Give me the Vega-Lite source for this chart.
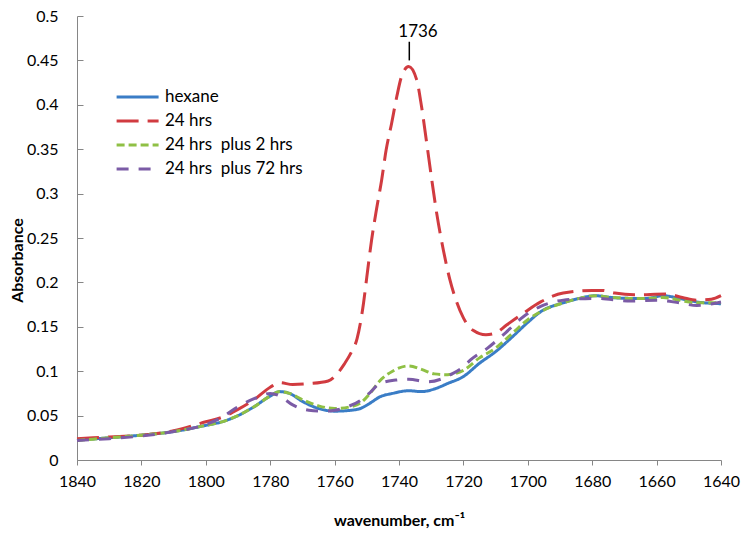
{
  "$schema": "https://vega.github.io/schema/vega-lite/v6.json",
  "width": 644,
  "height": 444,
  "autosize": {"type": "none"},
  "padding": {"left": 77, "top": 16, "right": 21, "bottom": 75},
  "background": "white",
  "config": {
    "view": {"stroke": null},
    "font": "Lato",
    "axis": {"grid": false, "domainColor": "#868686", "tickColor": "#868686", "labelFont": "Lato", "labelFontSize": 16, "labelColor": "#000", "titleFont": "Lato", "titleFontSize": 16, "titleFontWeight": "bold", "titleColor": "#000"}
  },
  "datasets": {
    "curves": [
      {"w": 1840, "A": 0.0225, "s": "hexane"},
      {"w": 1830, "A": 0.025, "s": "hexane"},
      {"w": 1820, "A": 0.028, "s": "hexane"},
      {"w": 1810, "A": 0.032, "s": "hexane"},
      {"w": 1800, "A": 0.039, "s": "hexane"},
      {"w": 1795, "A": 0.043, "s": "hexane"},
      {"w": 1790, "A": 0.05, "s": "hexane"},
      {"w": 1785, "A": 0.06, "s": "hexane"},
      {"w": 1780, "A": 0.072, "s": "hexane"},
      {"w": 1777, "A": 0.077, "s": "hexane"},
      {"w": 1774, "A": 0.075, "s": "hexane"},
      {"w": 1770, "A": 0.066, "s": "hexane"},
      {"w": 1765, "A": 0.058, "s": "hexane"},
      {"w": 1760, "A": 0.055, "s": "hexane"},
      {"w": 1755, "A": 0.056, "s": "hexane"},
      {"w": 1752, "A": 0.058, "s": "hexane"},
      {"w": 1749, "A": 0.064, "s": "hexane"},
      {"w": 1746, "A": 0.071, "s": "hexane"},
      {"w": 1742, "A": 0.075, "s": "hexane"},
      {"w": 1737, "A": 0.078, "s": "hexane"},
      {"w": 1733, "A": 0.077, "s": "hexane"},
      {"w": 1729, "A": 0.08, "s": "hexane"},
      {"w": 1725, "A": 0.086, "s": "hexane"},
      {"w": 1720, "A": 0.094, "s": "hexane"},
      {"w": 1715, "A": 0.109, "s": "hexane"},
      {"w": 1710, "A": 0.122, "s": "hexane"},
      {"w": 1705, "A": 0.138, "s": "hexane"},
      {"w": 1700, "A": 0.155, "s": "hexane"},
      {"w": 1696, "A": 0.167, "s": "hexane"},
      {"w": 1689, "A": 0.177, "s": "hexane"},
      {"w": 1684, "A": 0.182, "s": "hexane"},
      {"w": 1679, "A": 0.185, "s": "hexane"},
      {"w": 1674, "A": 0.183, "s": "hexane"},
      {"w": 1668, "A": 0.182, "s": "hexane"},
      {"w": 1663, "A": 0.182, "s": "hexane"},
      {"w": 1658, "A": 0.185, "s": "hexane"},
      {"w": 1653, "A": 0.182, "s": "hexane"},
      {"w": 1647.5, "A": 0.178, "s": "hexane"},
      {"w": 1640, "A": 0.176, "s": "hexane"},

      {"w": 1840, "A": 0.024, "s": "24 hrs"},
      {"w": 1830, "A": 0.026, "s": "24 hrs"},
      {"w": 1820, "A": 0.028, "s": "24 hrs"},
      {"w": 1810, "A": 0.033, "s": "24 hrs"},
      {"w": 1800, "A": 0.043, "s": "24 hrs"},
      {"w": 1795, "A": 0.048, "s": "24 hrs"},
      {"w": 1790, "A": 0.057, "s": "24 hrs"},
      {"w": 1785, "A": 0.068, "s": "24 hrs"},
      {"w": 1780, "A": 0.082, "s": "24 hrs"},
      {"w": 1777, "A": 0.087, "s": "24 hrs"},
      {"w": 1773, "A": 0.085, "s": "24 hrs"},
      {"w": 1768, "A": 0.086, "s": "24 hrs"},
      {"w": 1762, "A": 0.089, "s": "24 hrs"},
      {"w": 1759, "A": 0.098, "s": "24 hrs"},
      {"w": 1757, "A": 0.108, "s": "24 hrs"},
      {"w": 1755, "A": 0.12, "s": "24 hrs"},
      {"w": 1753, "A": 0.137, "s": "24 hrs"},
      {"w": 1751, "A": 0.177, "s": "24 hrs"},
      {"w": 1750, "A": 0.206, "s": "24 hrs"},
      {"w": 1748.5, "A": 0.248, "s": "24 hrs"},
      {"w": 1747, "A": 0.282, "s": "24 hrs"},
      {"w": 1745.4, "A": 0.315, "s": "24 hrs"},
      {"w": 1744, "A": 0.349, "s": "24 hrs"},
      {"w": 1742.3, "A": 0.379, "s": "24 hrs"},
      {"w": 1740.7, "A": 0.409, "s": "24 hrs"},
      {"w": 1739.2, "A": 0.432, "s": "24 hrs"},
      {"w": 1737, "A": 0.443, "s": "24 hrs"},
      {"w": 1734.5, "A": 0.428, "s": "24 hrs"},
      {"w": 1733, "A": 0.398, "s": "24 hrs"},
      {"w": 1731.4, "A": 0.357, "s": "24 hrs"},
      {"w": 1729.8, "A": 0.315, "s": "24 hrs"},
      {"w": 1728.3, "A": 0.278, "s": "24 hrs"},
      {"w": 1726.2, "A": 0.236, "s": "24 hrs"},
      {"w": 1724.2, "A": 0.203, "s": "24 hrs"},
      {"w": 1722.3, "A": 0.18, "s": "24 hrs"},
      {"w": 1720, "A": 0.16, "s": "24 hrs"},
      {"w": 1717, "A": 0.146, "s": "24 hrs"},
      {"w": 1713, "A": 0.141, "s": "24 hrs"},
      {"w": 1710, "A": 0.143, "s": "24 hrs"},
      {"w": 1706.6, "A": 0.152, "s": "24 hrs"},
      {"w": 1701.5, "A": 0.165, "s": "24 hrs"},
      {"w": 1696, "A": 0.178, "s": "24 hrs"},
      {"w": 1689, "A": 0.188, "s": "24 hrs"},
      {"w": 1680, "A": 0.191, "s": "24 hrs"},
      {"w": 1677, "A": 0.191, "s": "24 hrs"},
      {"w": 1673, "A": 0.188, "s": "24 hrs"},
      {"w": 1667, "A": 0.186, "s": "24 hrs"},
      {"w": 1657, "A": 0.187, "s": "24 hrs"},
      {"w": 1652, "A": 0.183, "s": "24 hrs"},
      {"w": 1647.5, "A": 0.18, "s": "24 hrs"},
      {"w": 1643, "A": 0.181, "s": "24 hrs"},
      {"w": 1640, "A": 0.185, "s": "24 hrs"},

      {"w": 1840, "A": 0.022, "s": "24 hrs\u00a0 plus 2 hrs"},
      {"w": 1830, "A": 0.025, "s": "24 hrs\u00a0 plus 2 hrs"},
      {"w": 1820, "A": 0.028, "s": "24 hrs\u00a0 plus 2 hrs"},
      {"w": 1810, "A": 0.032, "s": "24 hrs\u00a0 plus 2 hrs"},
      {"w": 1800, "A": 0.039, "s": "24 hrs\u00a0 plus 2 hrs"},
      {"w": 1795, "A": 0.043, "s": "24 hrs\u00a0 plus 2 hrs"},
      {"w": 1790, "A": 0.05, "s": "24 hrs\u00a0 plus 2 hrs"},
      {"w": 1785, "A": 0.06, "s": "24 hrs\u00a0 plus 2 hrs"},
      {"w": 1780, "A": 0.072, "s": "24 hrs\u00a0 plus 2 hrs"},
      {"w": 1777, "A": 0.077, "s": "24 hrs\u00a0 plus 2 hrs"},
      {"w": 1774, "A": 0.075, "s": "24 hrs\u00a0 plus 2 hrs"},
      {"w": 1770, "A": 0.068, "s": "24 hrs\u00a0 plus 2 hrs"},
      {"w": 1765, "A": 0.061, "s": "24 hrs\u00a0 plus 2 hrs"},
      {"w": 1760, "A": 0.058, "s": "24 hrs\u00a0 plus 2 hrs"},
      {"w": 1755, "A": 0.06, "s": "24 hrs\u00a0 plus 2 hrs"},
      {"w": 1752, "A": 0.064, "s": "24 hrs\u00a0 plus 2 hrs"},
      {"w": 1749, "A": 0.075, "s": "24 hrs\u00a0 plus 2 hrs"},
      {"w": 1746, "A": 0.089, "s": "24 hrs\u00a0 plus 2 hrs"},
      {"w": 1742, "A": 0.1, "s": "24 hrs\u00a0 plus 2 hrs"},
      {"w": 1737, "A": 0.106, "s": "24 hrs\u00a0 plus 2 hrs"},
      {"w": 1733, "A": 0.102, "s": "24 hrs\u00a0 plus 2 hrs"},
      {"w": 1729, "A": 0.097, "s": "24 hrs\u00a0 plus 2 hrs"},
      {"w": 1725, "A": 0.096, "s": "24 hrs\u00a0 plus 2 hrs"},
      {"w": 1720, "A": 0.101, "s": "24 hrs\u00a0 plus 2 hrs"},
      {"w": 1715, "A": 0.115, "s": "24 hrs\u00a0 plus 2 hrs"},
      {"w": 1710, "A": 0.126, "s": "24 hrs\u00a0 plus 2 hrs"},
      {"w": 1705, "A": 0.142, "s": "24 hrs\u00a0 plus 2 hrs"},
      {"w": 1700, "A": 0.158, "s": "24 hrs\u00a0 plus 2 hrs"},
      {"w": 1696, "A": 0.167, "s": "24 hrs\u00a0 plus 2 hrs"},
      {"w": 1689, "A": 0.177, "s": "24 hrs\u00a0 plus 2 hrs"},
      {"w": 1684, "A": 0.182, "s": "24 hrs\u00a0 plus 2 hrs"},
      {"w": 1679, "A": 0.185, "s": "24 hrs\u00a0 plus 2 hrs"},
      {"w": 1674, "A": 0.183, "s": "24 hrs\u00a0 plus 2 hrs"},
      {"w": 1668, "A": 0.182, "s": "24 hrs\u00a0 plus 2 hrs"},
      {"w": 1663, "A": 0.182, "s": "24 hrs\u00a0 plus 2 hrs"},
      {"w": 1658, "A": 0.183, "s": "24 hrs\u00a0 plus 2 hrs"},
      {"w": 1653, "A": 0.18, "s": "24 hrs\u00a0 plus 2 hrs"},
      {"w": 1647.5, "A": 0.177, "s": "24 hrs\u00a0 plus 2 hrs"},
      {"w": 1640, "A": 0.177, "s": "24 hrs\u00a0 plus 2 hrs"},

      {"w": 1840, "A": 0.022, "s": "24 hrs\u00a0 plus 72 hrs"},
      {"w": 1830, "A": 0.024, "s": "24 hrs\u00a0 plus 72 hrs"},
      {"w": 1820, "A": 0.027, "s": "24 hrs\u00a0 plus 72 hrs"},
      {"w": 1810, "A": 0.032, "s": "24 hrs\u00a0 plus 72 hrs"},
      {"w": 1800, "A": 0.04, "s": "24 hrs\u00a0 plus 72 hrs"},
      {"w": 1795, "A": 0.048, "s": "24 hrs\u00a0 plus 72 hrs"},
      {"w": 1790, "A": 0.06, "s": "24 hrs\u00a0 plus 72 hrs"},
      {"w": 1785, "A": 0.069, "s": "24 hrs\u00a0 plus 72 hrs"},
      {"w": 1780, "A": 0.075, "s": "24 hrs\u00a0 plus 72 hrs"},
      {"w": 1777, "A": 0.072, "s": "24 hrs\u00a0 plus 72 hrs"},
      {"w": 1773, "A": 0.062, "s": "24 hrs\u00a0 plus 72 hrs"},
      {"w": 1768, "A": 0.056, "s": "24 hrs\u00a0 plus 72 hrs"},
      {"w": 1764, "A": 0.055, "s": "24 hrs\u00a0 plus 72 hrs"},
      {"w": 1760, "A": 0.056, "s": "24 hrs\u00a0 plus 72 hrs"},
      {"w": 1756, "A": 0.06, "s": "24 hrs\u00a0 plus 72 hrs"},
      {"w": 1752, "A": 0.067, "s": "24 hrs\u00a0 plus 72 hrs"},
      {"w": 1749, "A": 0.076, "s": "24 hrs\u00a0 plus 72 hrs"},
      {"w": 1746, "A": 0.086, "s": "24 hrs\u00a0 plus 72 hrs"},
      {"w": 1741, "A": 0.09, "s": "24 hrs\u00a0 plus 72 hrs"},
      {"w": 1737, "A": 0.091, "s": "24 hrs\u00a0 plus 72 hrs"},
      {"w": 1731, "A": 0.088, "s": "24 hrs\u00a0 plus 72 hrs"},
      {"w": 1727, "A": 0.091, "s": "24 hrs\u00a0 plus 72 hrs"},
      {"w": 1724, "A": 0.096, "s": "24 hrs\u00a0 plus 72 hrs"},
      {"w": 1720, "A": 0.105, "s": "24 hrs\u00a0 plus 72 hrs"},
      {"w": 1717.7, "A": 0.113, "s": "24 hrs\u00a0 plus 72 hrs"},
      {"w": 1712.5, "A": 0.126, "s": "24 hrs\u00a0 plus 72 hrs"},
      {"w": 1707, "A": 0.143, "s": "24 hrs\u00a0 plus 72 hrs"},
      {"w": 1701.5, "A": 0.161, "s": "24 hrs\u00a0 plus 72 hrs"},
      {"w": 1696, "A": 0.173, "s": "24 hrs\u00a0 plus 72 hrs"},
      {"w": 1689, "A": 0.18, "s": "24 hrs\u00a0 plus 72 hrs"},
      {"w": 1679, "A": 0.182, "s": "24 hrs\u00a0 plus 72 hrs"},
      {"w": 1668, "A": 0.179, "s": "24 hrs\u00a0 plus 72 hrs"},
      {"w": 1660, "A": 0.18, "s": "24 hrs\u00a0 plus 72 hrs"},
      {"w": 1653, "A": 0.177, "s": "24 hrs\u00a0 plus 72 hrs"},
      {"w": 1647.5, "A": 0.174, "s": "24 hrs\u00a0 plus 72 hrs"},
      {"w": 1640, "A": 0.178, "s": "24 hrs\u00a0 plus 72 hrs"}
    ],
    "annot": [
      {"w": 1734.1, "A": 0.476, "w0": 1736.8, "A0": 0.471, "A1": 0.45, "label": "1736"}
    ]
  },
  "layer": [
    {
      "data": {"name": "curves"},
      "mark": {"type": "line", "strokeWidth": 3, "interpolate": "monotone"},
      "encoding": {
        "x": {"field": "w", "type": "quantitative", "scale": {"domain": [1640, 1840], "reverse": true, "nice": false}, "axis": {"values": [1840, 1820, 1800, 1780, 1760, 1740, 1720, 1700, 1680, 1660, 1640], "format": "d", "tickSize": 5, "labelPadding": 8, "labelFlush": false, "title": "wavenumber, cm⁻¹", "titleY": 65, "titleBaseline": "alphabetic"}},
        "y": {"field": "A", "type": "quantitative", "scale": {"domain": [0, 0.5], "nice": false}, "axis": {"values": [0, 0.05, 0.1, 0.15, 0.2, 0.25, 0.3, 0.35, 0.4, 0.45, 0.5], "format": ".2~f", "tickSize": -6, "labelPadding": 25, "labelFlush": false, "title": "Absorbance", "titleX": -55, "titleY": 244, "titleBaseline": "alphabetic", "titleAngle": -90}},
        "color": {"field": "s", "type": "nominal", "scale": {"domain": ["hexane", "24 hrs", "24 hrs\u00a0 plus 2 hrs", "24 hrs\u00a0 plus 72 hrs"], "range": ["#3A7DC6", "#D13B40", "#8FC045", "#7B5BA6"]}, "legend": {"title": null, "orient": "none", "legendX": 38, "legendY": 71, "padding": 0, "symbolType": "M-1,0H4", "symbolSize": 282, "symbolStrokeWidth": 3, "symbolFillColor": "transparent", "labelFontSize": 17, "labelFont": "Lato", "labelColor": "#000", "rowPadding": 6, "labelOffset": 30}},
        "strokeDash": {"field": "s", "type": "nominal", "scale": {"domain": ["hexane", "24 hrs", "24 hrs\u00a0 plus 2 hrs", "24 hrs\u00a0 plus 72 hrs"], "range": [[1, 0], [22, 9], [8, 4], [12, 10]]}, "legend": null}
      }
    },
    {
      "data": {"name": "annot"},
      "mark": {"type": "rule", "color": "#000", "strokeWidth": 1.5},
      "encoding": {
        "x": {"field": "w0", "type": "quantitative"},
        "y": {"field": "A0", "type": "quantitative"},
        "y2": {"field": "A1"}
      }
    },
    {
      "data": {"name": "annot"},
      "mark": {"type": "text", "fontSize": 17, "font": "Lato", "color": "#000", "baseline": "alphabetic", "align": "center"},
      "encoding": {
        "x": {"field": "w", "type": "quantitative"},
        "y": {"field": "A", "type": "quantitative"},
        "text": {"field": "label"}
      }
    }
  ]
}
